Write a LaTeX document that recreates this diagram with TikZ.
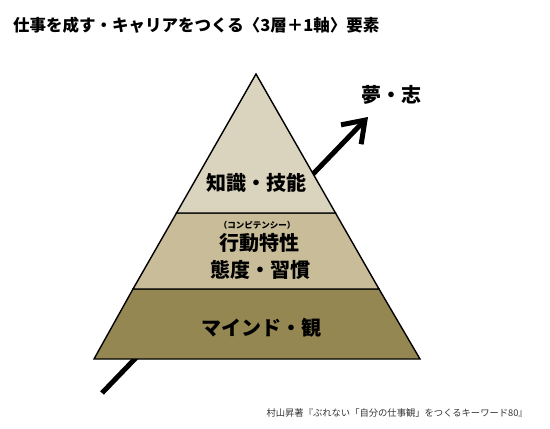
\documentclass[tikz,border=0pt]{standalone}
\usepackage{fontspec}
\setmainfont{Noto Sans CJK JP}
\usetikzlibrary{arrows.meta}
\definecolor{layerA}{RGB}{218,211,189}
\definecolor{layerB}{RGB}{200,189,152}
\definecolor{layerC}{RGB}{149,135,82}
\tikzset{
  layer/.style={draw=black, line width=1.4pt, line join=miter},
  lab/.style={font=\fontsize{20}{22}\selectfont\bfseries, inner sep=0pt},
}
\begin{document}
\begin{tikzpicture}[x=1pt,y=-1pt]
\useasboundingbox (0,0) rectangle (550,429);
% title
\node[anchor=west, inner sep=0pt, font=\fontsize{16.5}{18}\selectfont\bfseries] (title) at (13,25) {仕事を成す・キャリアをつくる〈3層＋1軸〉要素};
% coordinates
\coordinate (apex) at (256,74);
\coordinate (bl) at (94,359);
\coordinate (br) at (420,359);
\coordinate (m1l) at (176.5,213);
\coordinate (m1r) at (335.5,213);
\coordinate (m2l) at (133,289);
\coordinate (m2r) at (379,289);
% arrow (behind)
\coordinate (astart) at (102,393);
\coordinate (aend) at (368,117);
\draw[line width=5pt, -{Straight Barb[length=20pt,width=28pt,line width=5pt]}] (astart) -- (aend);
% layers
\draw[layer, fill=layerC] (m2l) -- (m2r) -- (br) -- (bl) -- cycle;
\draw[layer, fill=layerB] (m1l) -- (m1r) -- (m2r) -- (m2l) -- cycle;
\draw[layer, fill=layerA] (apex) -- (m1r) -- (m1l) -- cycle;
% labels
\node[lab] (k) at (256,183) {知識・技能};
\node[inner sep=0pt, font=\fontsize{8.5}{9}\selectfont\bfseries] (comp) at (257,225) {（コンピテンシー）};
\node[lab] (kodo) at (259,243) {行動特性};
\node[lab] (taido) at (260,270) {態度・習慣};
\node[lab] (mind) at (261,328) {マインド・観};
\node[lab] (yume) at (391,95) {夢・志};
% caption
\node[anchor=east, inner sep=0pt, font=\fontsize{9.3}{10}\selectfont, text=black!80] (cap) at (528,413) {村山昇著『ぶれない「自分の仕事観」をつくるキーワード80』};
\end{tikzpicture}
\end{document}
